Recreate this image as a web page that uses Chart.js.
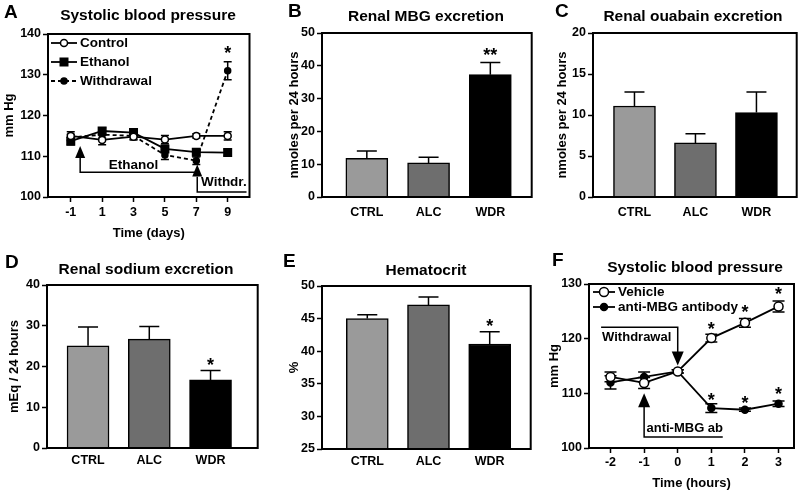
<!DOCTYPE html>
<html lang="en">
<head>
<meta charset="UTF-8">
<title>Ethanol withdrawal, MBG and blood pressure</title>
<script src="https://cdn.jsdelivr.net/npm/chart.js"></script>
<style>
    body { margin: 0; background: #fff; }
    #fig { position: relative; width: 800px; height: 494px; overflow: hidden; background: #fff; }
    #fig canvas { position: absolute; }
</style>
</head>
<body>
<div id="fig">
    <canvas id="panelA"></canvas>
    <canvas id="panelB"></canvas>
    <canvas id="panelC"></canvas>
    <canvas id="panelD"></canvas>
    <canvas id="panelE"></canvas>
    <canvas id="panelF"></canvas>
</div>
<script>
// ---- data ----
const groups = ['CTRL', 'ALC', 'WDR'];

// A: systolic blood pressure (days)
const days = [-1, 1, 3, 5, 7, 9];
const sbpControl = [115, 114, 114.8, 114.1, 115, 115];
const sbpControlSem = [1, 1.2, 0.8, 1, 0.5, 1];
const sbpEthanol = [113.7, 116.2, 115.8, 111.8, 111, 110.9];
const sbpEthanolSem = [0.9, 0.8, 0.9, 0.9, 0.8, 0.8];
const sbpWithdrawal = [114.6, 115.3, 115, 110.3, 108.9, 131];
const sbpWithdrawalSem = [0.8, 0.8, 0.8, 1.1, 0.9, 2.2];
const starsA = [[9, 136]];

// B-E: bar panels
const mbgMean = [11.8, 10.4, 37.3];
const mbgSem = [2.2, 1.7, 3.7];
const starsB = [[2, 44.2, '**']];
const ouabainMean = [11.1, 6.6, 10.3];
const ouabainSem = [1.7, 1.1, 2.5];
const sodiumMean = [25.1, 26.7, 16.7];
const sodiumSem = [4.6, 3.1, 2.3];
const starsD = [[2, 21.1]];
const hctMean = [45.0, 47.1, 41.1];
const hctSem = [0.6, 1.2, 1.9];
const starsE = [[2, 44.3]];

// F: systolic blood pressure (hours)
const hours = [-2, -1, 0, 1, 2, 3];
const sbpVehicle = [113, 111.9, 114, 120.1, 122.9, 125.9];
const sbpVehicleSem = [0.9, 1, 0.3, 0.7, 0.8, 1];
const sbpAntiMbg = [112, 113, 114, 107.3, 107, 108.1];
const sbpAntiMbgSem = [1.2, 0.9, 0.3, 0.8, 0.3, 0.5];
const starsF = [[1, 122.3], [2, 125.4], [3, 128.8], [1, 109.4], [2, 108.8], [3, 110.4]];

const FONT = "'Liberation Sans', Arial, Helvetica, sans-serif";
Chart.defaults.font.family = FONT;
Chart.defaults.font.weight = 'bold';
Chart.defaults.color = '#000';

function xy(xs, ys) {
    return ys.map((v, i) => ({ x: xs[i], y: v }));
}

function drawMarker(ctx, ds, cx, cy) {
    ctx.save();
    ctx.setLineDash([]);
    ctx.fillStyle = ds.pointBackgroundColor;
    ctx.strokeStyle = '#000';
    ctx.lineWidth = ds.pointBorderWidth;
    ctx.beginPath();
    if (ds.pointStyle === 'rect') {
        const s = ds.pointRadius * Math.SQRT1_2;
        ctx.rect(cx - s, cy - s, 2 * s, 2 * s);
    } else {
        ctx.arc(cx, cy, ds.pointRadius, 0, Math.PI * 2);
    }
    ctx.fill();
    ctx.stroke();
    ctx.restore();
}

// error bars, frame, titles, legend, arrows and stars
const panelPlugin = {
    id: 'panel',
    beforeDatasetsDraw(chart, args, opts) {
        const { ctx, scales: { x, y } } = chart;
        ctx.save();
        ctx.strokeStyle = '#000';
        ctx.setLineDash([]);
        chart.data.datasets.forEach(ds => {
            if (!ds.err) return;
            ctx.lineWidth = 1.5;
            ds.data.forEach((pt, j) => {
                const e = ds.err[j];
                const px = x.getPixelForValue(pt.x);
                const hi = y.getPixelForValue(pt.y + e);
                const lo = y.getPixelForValue(opts.upOnly ? pt.y : pt.y - e);
                const c = ds.capWidth / 2;
                ctx.beginPath();
                ctx.moveTo(px, lo);
                ctx.lineTo(px, hi);
                ctx.moveTo(px - c, hi);
                ctx.lineTo(px + c, hi);
                if (!opts.upOnly) {
                    ctx.moveTo(px - c, lo);
                    ctx.lineTo(px + c, lo);
                }
                ctx.stroke();
            });
        });
        ctx.restore();
    },
    afterDraw(chart, args, opts) {
        const { ctx, chartArea: a, scales: { x, y } } = chart;
        ctx.save();
        ctx.strokeStyle = '#000';
        ctx.fillStyle = '#000';
        ctx.lineWidth = 2;
        ctx.strokeRect(a.left, a.top, a.right - a.left, a.bottom - a.top);

        ctx.textBaseline = 'middle';
        ctx.textAlign = 'left';
        ctx.font = 'bold 19px ' + FONT;
        ctx.fillText(opts.letter, opts.letterX, opts.letterY);
        ctx.textAlign = 'center';
        ctx.font = 'bold 15.5px ' + FONT;
        ctx.fillText(opts.title, opts.titleX, opts.titleY);

        // significance stars
        ctx.font = 'bold 18px ' + FONT;
        (opts.stars || []).forEach(s => {
            ctx.fillText(s[2] || '*', x.getPixelForValue(s[0]), y.getPixelForValue(s[1]) + 4);
        });

        // bracket lines and arrows
        const n = opts.notes;
        if (n) {
            ctx.lineWidth = 1.5;
            n.lines.forEach(line => {
                ctx.beginPath();
                line.forEach((p, i) => {
                    const px = x.getPixelForValue(p[0]);
                    const py = y.getPixelForValue(p[1]);
                    if (i === 0) ctx.moveTo(px, py); else ctx.lineTo(px, py);
                });
                ctx.stroke();
            });
            n.arrows.forEach(ar => {
                const px = x.getPixelForValue(ar[0]);
                const py = y.getPixelForValue(ar[1]);
                const d = ar[2] === 'up' ? 1 : -1;
                ctx.beginPath();
                ctx.moveTo(px, py);
                ctx.lineTo(px - n.headW / 2, py + d * n.headL);
                ctx.lineTo(px + n.headW / 2, py + d * n.headL);
                ctx.closePath();
                ctx.fill();
            });
            ctx.font = 'bold ' + n.fontSize + 'px ' + FONT;
            n.texts.forEach(t => {
                ctx.textAlign = t[3];
                ctx.fillText(t[0], x.getPixelForValue(t[1]), y.getPixelForValue(t[2]));
            });
        }

        // legend inside the frame
        const lg = opts.legend;
        if (lg) {
            ctx.font = 'bold ' + lg.fontSize + 'px ' + FONT;
            ctx.textAlign = 'left';
            chart.data.datasets.forEach((ds, i) => {
                const ly = lg.rows[i];
                ctx.save();
                ctx.lineWidth = ds.borderWidth;
                ctx.setLineDash(ds.borderDash || []);
                ctx.beginPath();
                ctx.moveTo(lg.x1, ly);
                ctx.lineTo(lg.x2, ly);
                ctx.stroke();
                ctx.restore();
                drawMarker(ctx, ds, (lg.x1 + lg.x2) / 2, ly);
                ctx.fillText(ds.label, lg.textX, ly);
            });
        }
        ctx.restore();
    }
};

function yAxis(p) {
    return {
        min: p.yMin,
        max: p.yMax,
        ticks: { stepSize: p.yStep, padding: 2, color: '#000', font: { size: 12.5, weight: 'bold' } },
        grid: { display: true, drawOnChartArea: false, drawTicks: true, tickLength: 5, tickWidth: 1.5, tickColor: '#000' },
        border: { display: false },
        title: { display: true, text: p.yTitle, color: '#000', font: { size: 13, weight: 'bold' }, padding: { top: p.yTitlePad, bottom: 0 } },
        afterFit(s) { s.width = p.yWidth; }
    };
}

function xAxis(p) {
    return {
        type: 'linear',
        offset: false,
        min: p.xMin,
        max: p.xMax,
        afterBuildTicks(s) { s.ticks = p.xTicks.map(v => ({ value: v })); },
        ticks: { padding: p.xTickPad, color: '#000', font: { size: 12.5, weight: 'bold' }, callback: p.xLabel },
        grid: { display: true, offset: false, drawOnChartArea: false, drawTicks: p.xTickMarks, tickLength: 5, tickWidth: 1.5, tickColor: '#000' },
        border: { display: false },
        title: { display: !!p.xTitle, text: p.xTitle || '', color: '#000', font: { size: 13, weight: 'bold' }, padding: { top: 0, bottom: p.xTitlePad || 0 } },
        afterFit(s) { s.height = p.xHeight; }
    };
}

function makeChart(id, p, type, datasets) {
    const canvas = document.getElementById(id);
    canvas.width = p.box[2];
    canvas.height = p.box[3];
    canvas.style.left = p.box[0] + 'px';
    canvas.style.top = p.box[1] + 'px';
    return new Chart(canvas.getContext('2d'), {
        type: type,
        data: { datasets: datasets },
        options: {
            responsive: false,
            animation: false,
            layout: { padding: { top: p.padTop, right: p.padRight, left: 0, bottom: 0 } },
            plugins: { legend: { display: false }, tooltip: { enabled: false }, panel: p.panel },
            scales: { x: xAxis(p), y: yAxis(p) }
        },
        plugins: [panelPlugin]
    });
}

function lineSet(label, xs, ys, err, style) {
    return Object.assign({
        label: label,
        data: xy(xs, ys),
        err: err,
        borderColor: '#000',
        borderWidth: 1.8,
        pointBorderColor: '#000',
        pointBorderWidth: 1.5,
        tension: 0,
        clip: false
    }, style);
}

function barSet(means, sems) {
    return [{
        data: xy([0, 1, 2], means),
        err: sems,
        capWidth: 20,
        backgroundColor: ['#9a9a9a', '#6e6e6e', '#000000'],
        borderColor: '#000',
        borderWidth: 1.5,
        barThickness: 42
    }];
}

const groupLabel = v => groups[v];

// ---- A ----
makeChart('panelA', {
    box: [0, 0, 262, 247], padTop: 34, padRight: 12.5, yWidth: 48, xHeight: 50,
    yMin: 100, yMax: 140, yStep: 10, yTitle: 'mm Hg', yTitlePad: 2,
    xMin: -2.45, xMax: 10.39, xTicks: days, xLabel: v => String(v), xTickMarks: true, xTickPad: 3,
    xTitle: 'Time (days)', xTitlePad: 6,
    panel: {
        letter: 'A', letterX: 4, letterY: 13, title: 'Systolic blood pressure', titleX: 148, titleY: 16,
        stars: starsA,
        legend: { x1: 51, x2: 77, textX: 80, rows: [43, 62, 81], fontSize: 13.5 },
        notes: {
            headW: 10, headL: 12, fontSize: 13.5,
            lines: [[[-0.4, 110], [-0.4, 106.1], [7.06, 106.1]], [[7.06, 105], [7.06, 101.2], [10.2, 101.2]]],
            arrows: [[-0.4, 112.5, 'up'], [7.06, 108, 'up']],
            texts: [['Ethanol', 3, 107.9, 'center'], ['Withdr.', 7.3, 103.6, 'left']]
        }
    }
}, 'line', [
    lineSet('Control', days, sbpControl, sbpControlSem, { pointStyle: 'circle', pointRadius: 3.5, pointBackgroundColor: '#fff', capWidth: 8 }),
    lineSet('Ethanol', days, sbpEthanol, sbpEthanolSem, { pointStyle: 'rect', pointRadius: 5.3, pointBackgroundColor: '#000', capWidth: 8 }),
    lineSet('Withdrawal', days, sbpWithdrawal, sbpWithdrawalSem, { pointStyle: 'circle', pointRadius: 3, pointBackgroundColor: '#000', borderDash: [4, 3], capWidth: 8 })
]);

// ---- B ----
makeChart('panelB', {
    box: [265, 0, 270, 247], padTop: 33, padRight: 3.3, yWidth: 57, xHeight: 50,
    yMin: 0, yMax: 50, yStep: 10, yTitle: 'nmoles per 24 hours', yTitlePad: 22,
    xMin: -0.726, xMax: 2.67, xTicks: [0, 1, 2], xLabel: groupLabel, xTickMarks: false, xTickPad: 8,
    panel: { letter: 'B', letterX: 23, letterY: 12, title: 'Renal MBG excretion', titleX: 161, titleY: 17, stars: starsB, upOnly: true }
}, 'bar', barSet(mbgMean, mbgSem));

// ---- C ----
makeChart('panelC', {
    box: [530, 0, 270, 247], padTop: 33, padRight: 3.3, yWidth: 63, xHeight: 50,
    yMin: 0, yMax: 20, yStep: 5, yTitle: 'nmoles per 24 hours', yTitlePad: 25,
    xMin: -0.68, xMax: 2.66, xTicks: [0, 1, 2], xLabel: groupLabel, xTickMarks: false, xTickPad: 8,
    panel: { letter: 'C', letterX: 25, letterY: 12, title: 'Renal ouabain excretion', titleX: 163, titleY: 17, upOnly: true }
}, 'bar', barSet(ouabainMean, ouabainSem));

// ---- D ----
makeChart('panelD', {
    box: [0, 247, 262, 247], padTop: 38, padRight: 4.3, yWidth: 47, xHeight: 46,
    yMin: 0, yMax: 40, yStep: 10, yTitle: 'mEq / 24 hours', yTitlePad: 7,
    xMin: -0.67, xMax: 2.77, xTicks: [0, 1, 2], xLabel: groupLabel, xTickMarks: false, xTickPad: 5.5,
    panel: { letter: 'D', letterX: 5, letterY: 16, title: 'Renal sodium excretion', titleX: 146, titleY: 23, stars: starsD, upOnly: true }
}, 'bar', barSet(sodiumMean, sodiumSem));

// ---- E ----
makeChart('panelE', {
    box: [265, 247, 270, 247], padTop: 39, padRight: 4.3, yWidth: 57, xHeight: 45,
    yMin: 25, yMax: 50, yStep: 5, yTitle: '%', yTitlePad: 22,
    xMin: -0.74, xMax: 2.67, xTicks: [0, 1, 2], xLabel: groupLabel, xTickMarks: false, xTickPad: 5.5,
    panel: { letter: 'E', letterX: 18, letterY: 15, title: 'Hematocrit', titleX: 161, titleY: 24, stars: starsE, upOnly: true }
}, 'bar', barSet(hctMean, hctSem));

// ---- F ----
makeChart('panelF', {
    box: [530, 247, 270, 247], padTop: 37, padRight: 4.3, yWidth: 59, xHeight: 46,
    yMin: 100, yMax: 130, yStep: 10, yTitle: 'mm Hg', yTitlePad: 17,
    xMin: -2.64, xMax: 3.46, xTicks: hours, xLabel: v => String(v), xTickMarks: true, xTickPad: 2.5,
    xTitle: 'Time (hours)', xTitlePad: 3,
    panel: {
        letter: 'F', letterX: 22, letterY: 14, title: 'Systolic blood pressure', titleX: 165, titleY: 21,
        stars: starsF,
        legend: { x1: 63, x2: 85, textX: 88, rows: [45, 60], fontSize: 13.5 },
        notes: {
            headW: 12, headL: 14, fontSize: 13,
            lines: [[[-2.28, 122.1], [0, 122.1], [0, 117]], [[-1, 108], [-1, 102], [1.34, 102]]],
            arrows: [[0, 115.1, 'down'], [-1, 110, 'up']],
            texts: [['Withdrawal', -2.25, 120.3, 'left'], ['anti-MBG ab', -0.93, 103.6, 'left']]
        }
    }
}, 'line', [
    lineSet('Vehicle', hours, sbpVehicle, sbpVehicleSem, { pointStyle: 'circle', pointRadius: 4.5, pointBackgroundColor: '#fff', capWidth: 12 }),
    lineSet('anti-MBG antibody', hours, sbpAntiMbg, sbpAntiMbgSem, { pointStyle: 'circle', pointRadius: 3.5, pointBackgroundColor: '#000', capWidth: 12 })
]);
</script>
</body>
</html>
